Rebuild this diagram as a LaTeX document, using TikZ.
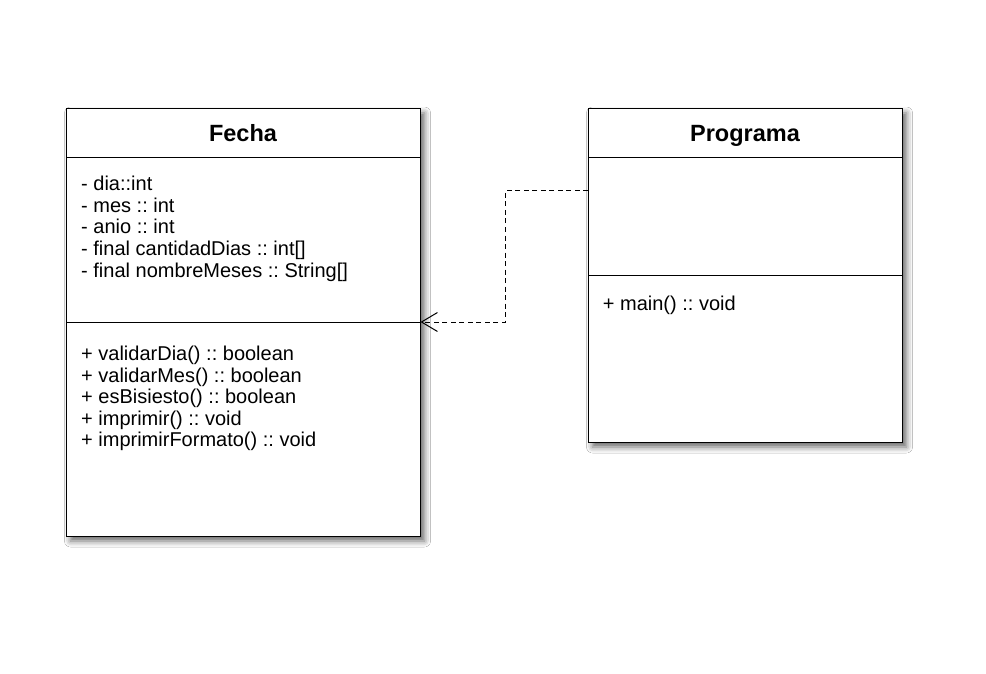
\documentclass[tikz,border=0pt]{standalone}
\usepackage{fontspec}
\setmainfont{Liberation Sans}
\usetikzlibrary{arrows.meta,shadows.blur}
\frenchspacing
\begin{document}
\begin{tikzpicture}[x=1pt,y=-1pt,
  classbox/.style={draw=black, line width=1pt, fill=white, rectangle, inner sep=0pt, anchor=north west,
    blur shadow={shadow xshift=4pt, shadow yshift=-4.5pt, shadow blur radius=6pt, shadow opacity=60}},
  divider/.style={draw=black, line width=1pt},
  ctitle/.style={font=\fontsize{23.5}{28}\selectfont\bfseries, inner sep=0pt, anchor=base},
  member/.style={font=\fontsize{20}{22}\selectfont\frenchspacing, inner sep=0pt, anchor=base west},
  dep/.style={draw=black, line width=1pt, dash pattern=on 5pt off 3.5pt,
    -{Straight Barb[length=16pt, width=19pt, line width=1pt]}}
]
\useasboundingbox (0,0) rectangle (986,674);
\fill[white] (0,0) rectangle (986,674);

% Fecha class
\node[classbox, minimum width=354pt, minimum height=428pt] (fecha) at (66,108) {};
\draw[divider] (66,158) -- (420,158);
\draw[divider] (66,322) -- (420,322);
\node[ctitle] (fechaT) at (243,141.7) {Fecha};
\node[member] (fa1) at (81,190.7) {- dia::int};
\node[member] (fa2) at (81,212.3) {- mes :: int};
\node[member] (fa3) at (81,233.9) {- anio :: int};
\node[member] (fa4) at (81,255.5) {- final cantidadDias :: int[]};
\node[member] (fa5) at (81,277.1) {- final nombreMeses :: String[]};
\node[member] (fm1) at (81,360.7) {+ validarDia() :: boolean};
\node[member] (fm2) at (81,382.2) {+ validarMes() :: boolean};
\node[member] (fm3) at (81,403.7) {+ esBisiesto() :: boolean};
\node[member] (fm4) at (81,425.2) {+ imprimir() :: void};
\node[member] (fm5) at (81,446.7) {+ imprimirFormato() :: void};

% Programa class
\node[classbox, minimum width=314pt, minimum height=334pt] (programa) at (588,108) {};
\draw[divider] (588,158) -- (902,158);
\draw[divider] (588,275) -- (902,275);
\node[ctitle] (programaT) at (745,141.7) {Programa};
\node[member] (pm1) at (602.7,310) {+ main() :: void};

% dependency
\coordinate (pp) at (588,191);
\coordinate (jn) at (505,191);
\coordinate (fr) at (420.5,322);
\draw[dep] (pp) -- (jn) |- (fr);
\end{tikzpicture}
\end{document}
